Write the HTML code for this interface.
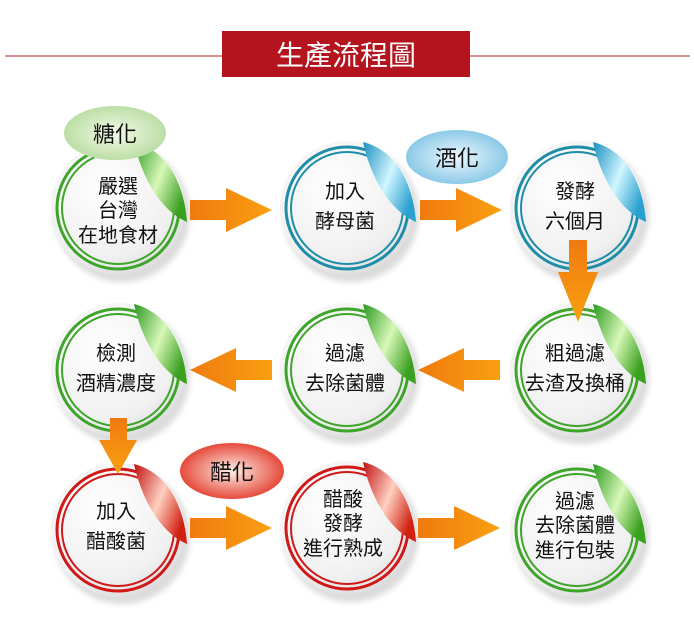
<!DOCTYPE html>
<html><head><meta charset="utf-8"><style>
html,body{margin:0;padding:0;background:#fff;}
svg{display:block;}
text{font-family:"Liberation Sans","Noto Sans CJK TC",sans-serif;}
</style></head><body>
<svg width="694" height="618" viewBox="0 0 694 618" xmlns="http://www.w3.org/2000/svg">
<defs>
<radialGradient id="disk" cx="0.4" cy="0.35" r="0.75">
<stop offset="0" stop-color="#ffffff"/><stop offset="0.7" stop-color="#f0f0f0"/><stop offset="1" stop-color="#d4d4d4"/>
</radialGradient>
<linearGradient id="arrH" x1="0" y1="0" x2="1" y2="0"><stop offset="0" stop-color="#f07a10"/><stop offset="1" stop-color="#f9a010"/></linearGradient>
<linearGradient id="arrV" x1="0" y1="0" x2="0" y2="1"><stop offset="0" stop-color="#f07a10"/><stop offset="1" stop-color="#f9a010"/></linearGradient>
<linearGradient id="pg" x1="0" y1="0" x2="1" y2="0.6"><stop offset="0" stop-color="#2a9a20"/><stop offset="0.55" stop-color="#d8f8b8"/><stop offset="1" stop-color="#3aa020"/></linearGradient>
<linearGradient id="pb" x1="0" y1="0" x2="1" y2="0.6"><stop offset="0" stop-color="#1a90c0"/><stop offset="0.55" stop-color="#d0f6ff"/><stop offset="1" stop-color="#2aa0d0"/></linearGradient>
<linearGradient id="pr" x1="0" y1="0" x2="1" y2="0.6"><stop offset="0" stop-color="#c01010"/><stop offset="0.55" stop-color="#ffd0c0"/><stop offset="1" stop-color="#d02010"/></linearGradient>
<radialGradient id="og" cx="0.5" cy="0.5" r="0.6"><stop offset="0" stop-color="#f4fbe8"/><stop offset="1" stop-color="#b0d898"/></radialGradient>
<radialGradient id="ob" cx="0.5" cy="0.5" r="0.6"><stop offset="0" stop-color="#eef8ff"/><stop offset="1" stop-color="#78c0e2"/></radialGradient>
<radialGradient id="or" cx="0.5" cy="0.5" r="0.6"><stop offset="0" stop-color="#fff0e8"/><stop offset="1" stop-color="#e02818"/></radialGradient>
<filter id="sh" x="-20%" y="-20%" width="140%" height="140%"><feGaussianBlur stdDeviation="3"/></filter>
<g id="base">
<circle cx="4" cy="6" r="68" fill="#999" opacity="0.35" filter="url(#sh)"/>
<circle r="67" fill="url(#disk)"/>
</g>
<path id="peel" d="M16,-66 C48,-58 66,-26 69,14 C42,2 24,-30 16,-66 Z"/>
</defs>

<line x1="5" y1="56" x2="690" y2="56" stroke="#b01c22" stroke-width="1"/>
<rect x="222" y="31" width="248" height="46" fill="#b3141e"/>
<text x="346" y="65" font-size="28" fill="#fff" text-anchor="middle">生產流程圖</text>

<g transform="translate(118,208)"><use href="#base"/>
<circle r="61" fill="none" stroke="#3ea52a" stroke-width="3"/><circle r="56" fill="none" stroke="#3ea52a" stroke-width="2"/>
<use href="#peel" fill="url(#pg)"/></g>
<g transform="translate(347,208)"><use href="#base"/>
<circle r="61" fill="none" stroke="#1e8ea8" stroke-width="3"/><circle r="56" fill="none" stroke="#1e8ea8" stroke-width="2"/>
<use href="#peel" fill="url(#pb)"/></g>
<g transform="translate(577,208)"><use href="#base"/>
<circle r="61" fill="none" stroke="#1e8ea8" stroke-width="3"/><circle r="56" fill="none" stroke="#1e8ea8" stroke-width="2"/>
<use href="#peel" fill="url(#pb)"/></g>
<g transform="translate(118,370)"><use href="#base"/>
<circle r="61" fill="none" stroke="#3ea52a" stroke-width="3"/><circle r="56" fill="none" stroke="#3ea52a" stroke-width="2"/>
<use href="#peel" fill="url(#pg)"/></g>
<g transform="translate(347,370)"><use href="#base"/>
<circle r="61" fill="none" stroke="#3ea52a" stroke-width="3"/><circle r="56" fill="none" stroke="#3ea52a" stroke-width="2"/>
<use href="#peel" fill="url(#pg)"/></g>
<g transform="translate(577,370)"><use href="#base"/>
<circle r="61" fill="none" stroke="#3ea52a" stroke-width="3"/><circle r="56" fill="none" stroke="#3ea52a" stroke-width="2"/>
<use href="#peel" fill="url(#pg)"/></g>
<g transform="translate(118,530)"><use href="#base"/>
<circle r="61" fill="none" stroke="#d01818" stroke-width="3"/><circle r="56" fill="none" stroke="#d01818" stroke-width="2"/>
<use href="#peel" fill="url(#pr)"/></g>
<g transform="translate(347,528)"><use href="#base"/>
<circle r="61" fill="none" stroke="#d01818" stroke-width="3"/><circle r="56" fill="none" stroke="#d01818" stroke-width="2"/>
<use href="#peel" fill="url(#pr)"/></g>
<g transform="translate(577,530)"><use href="#base"/>
<circle r="61" fill="none" stroke="#3ea52a" stroke-width="3"/><circle r="56" fill="none" stroke="#3ea52a" stroke-width="2"/>
<use href="#peel" fill="url(#pg)"/></g>

<ellipse cx="115" cy="133" rx="51" ry="27" fill="url(#og)"/>
<text x="115" y="142" font-size="22" text-anchor="middle" fill="#111">糖化</text>
<ellipse cx="457" cy="157" rx="51" ry="27" fill="url(#ob)"/>
<text x="457" y="166" font-size="22" text-anchor="middle" fill="#111">酒化</text>
<ellipse cx="232" cy="471" rx="52" ry="28" fill="url(#or)"/>
<text x="232" y="480" font-size="22" text-anchor="middle" fill="#111">醋化</text>

<g fill="url(#arrH)">
<path d="M190,200 H226 V188 L272,210 L226,232 V220 H190 Z"/>
<path d="M420,200 H456 V188 L502,210 L456,232 V220 H420 Z"/>
<path d="M190,518 H226 V506 L272,528 L226,550 V538 H190 Z"/>
<path d="M418,518 H454 V506 L500,528 L454,550 V538 H418 Z"/>
<path d="M272,360 H236 V348 L190,370 L236,392 V380 H272 Z"/>
<path d="M500,360 H464 V348 L418,370 L464,392 V380 H500 Z"/>
</g>
<g fill="url(#arrV)">
<path d="M569,240 H587 V272 H598 L578,322 L558,272 H569 Z"/>
<path d="M110,418 H127 V440 H137 L118,474 L99,440 H110 Z"/>
</g>

<g font-size="20" text-anchor="middle" fill="#111">
<text x="118" y="193">嚴選</text><text x="118" y="217">台灣</text><text x="118" y="242">在地食材</text>
<text x="345" y="198">加入</text><text x="345" y="228">酵母菌</text>
<text x="575" y="198">發酵</text><text x="575" y="228">六個月</text>
<text x="116" y="360">檢測</text><text x="116" y="390">酒精濃度</text>
<text x="345" y="360">過濾</text><text x="345" y="390">去除菌體</text>
<text x="575" y="360">粗過濾</text><text x="575" y="390">去渣及換桶</text>
<text x="116" y="518">加入</text><text x="116" y="548">醋酸菌</text>
<text x="343" y="506">醋酸</text><text x="343" y="530">發酵</text><text x="343" y="555">進行熟成</text>
<text x="575" y="508">過濾</text><text x="575" y="532">去除菌體</text><text x="575" y="557">進行包裝</text>
</g>
</svg>
</body></html>
